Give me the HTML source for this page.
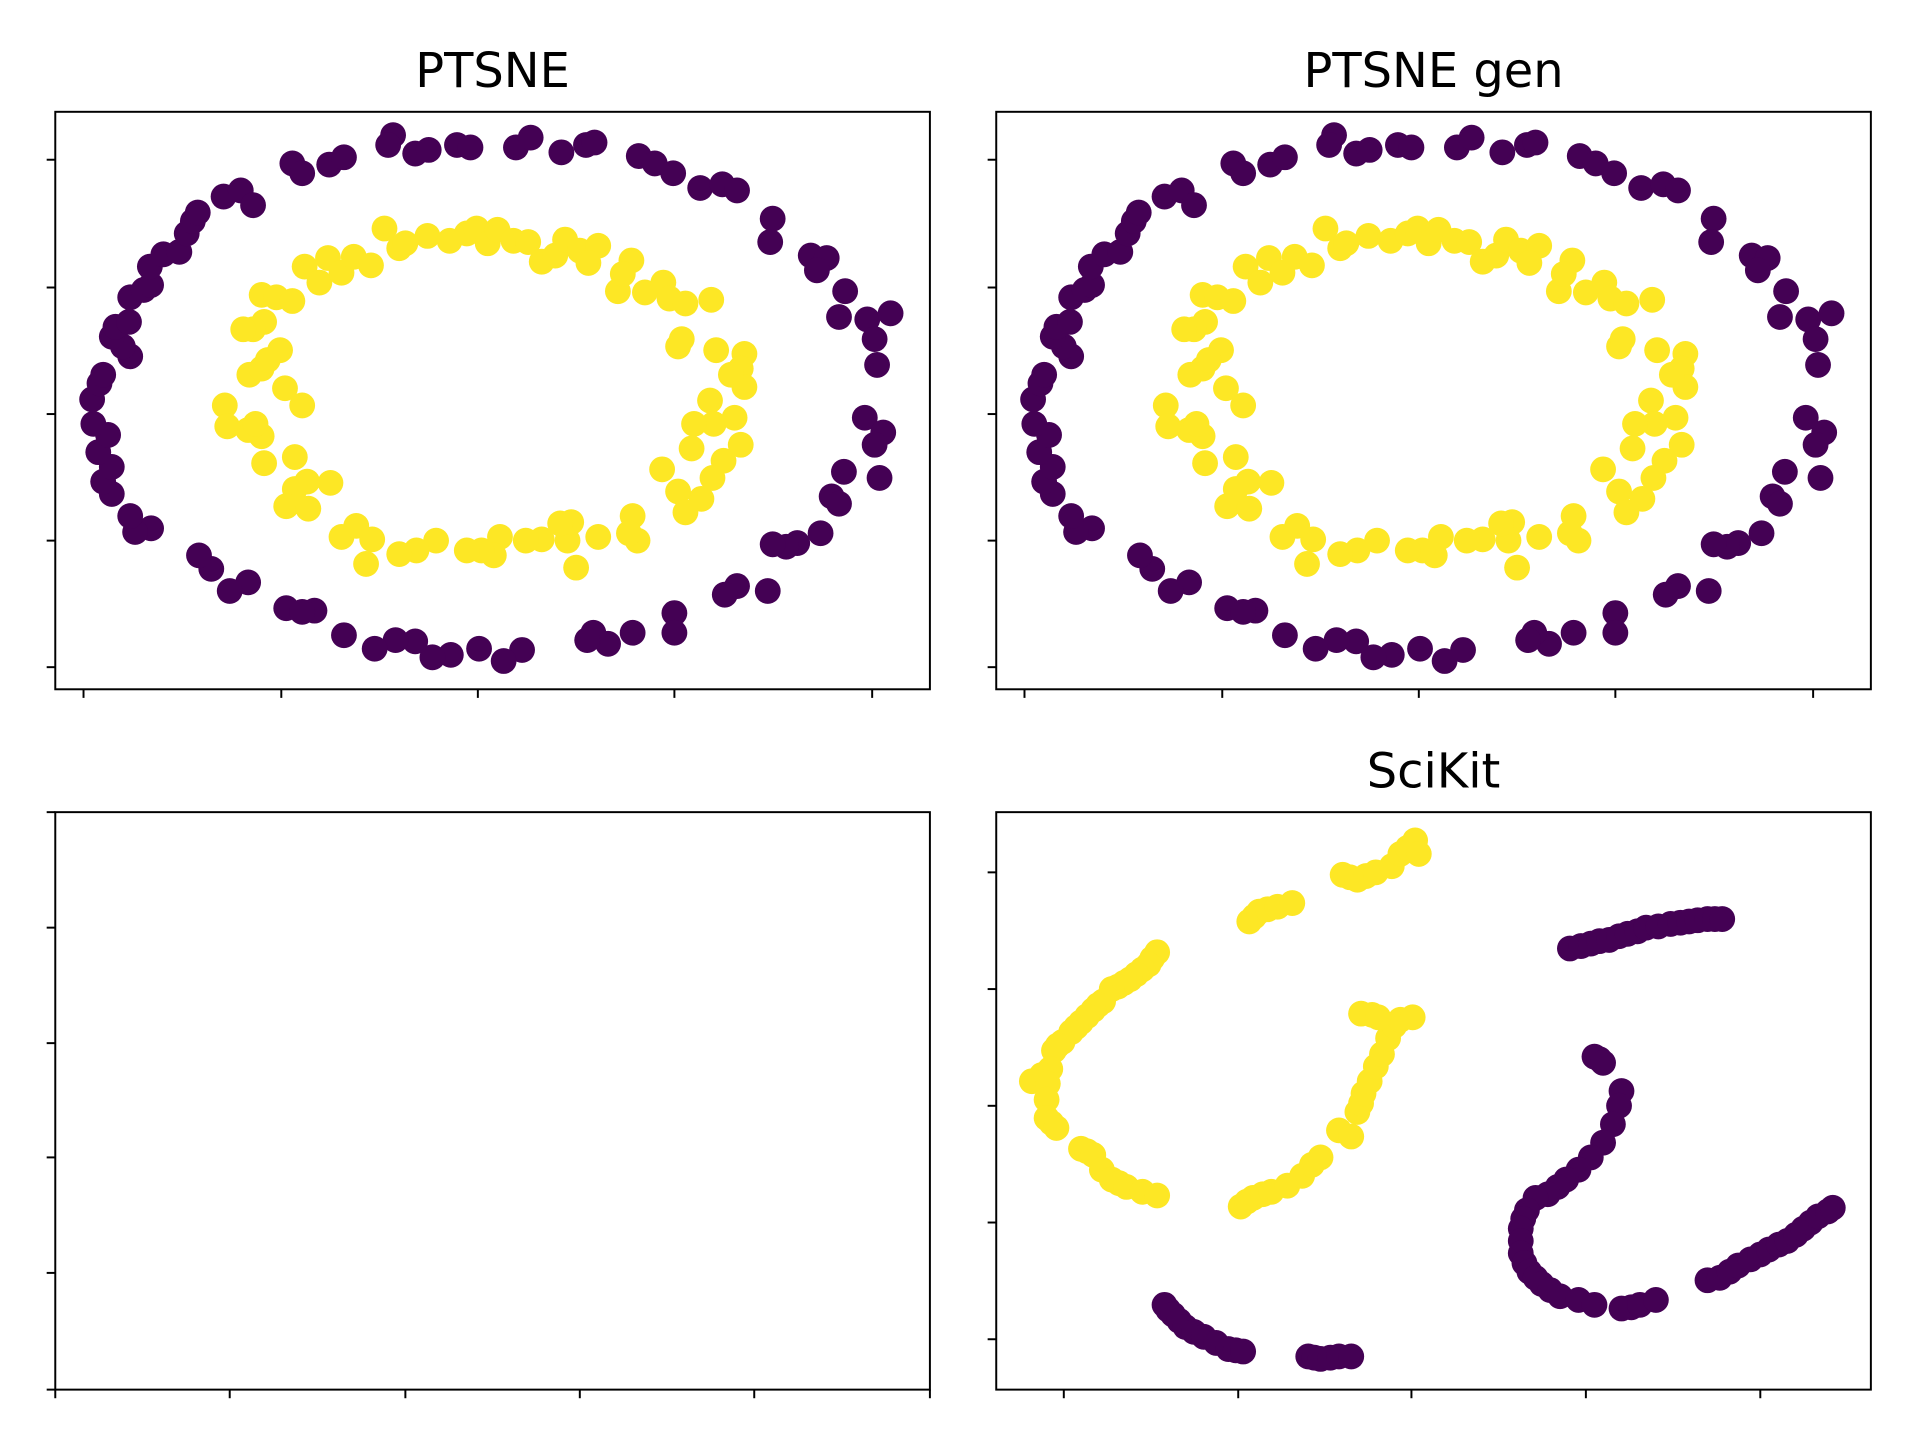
<!DOCTYPE html>
<html><head><meta charset="utf-8"><style>
html,body{margin:0;padding:0;background:#fff;}
svg{display:block;}
text{font-family:"DejaVu Sans","Liberation Sans",sans-serif;}
</style></head><body>
<svg id="fig" width="1920" height="1440" viewBox="0 0 1563 1172" preserveAspectRatio="none" xmlns="http://www.w3.org/2000/svg"></svg>
<script>
// ---- data (embedding coordinates) ----
const ptsneOuterX=[320,316,338,349,372,383,420,432,457,477,484,520,533,548,570,588,600,629,627,660,673,665,688,683,706,725,712,714,704,719,712,716,687,677,683,668,649,640,629,625,600,590,549,549,515,495,483,478,425,410,390,367,352,338,322,305,280,256,233,246,202,187,172,162,123,110,106,91,84,91,80,88,76,75,81,84,106,100,91,94,105,106,117,123,122,133,146,152,157,161,182,196,206,238,246,268,280];
const ptsneOuterY=[110,118,125,122,118,120,120,112,124,118,116,127,133,141,153,150,155,178,197,208,210,220,237,258,260,255,276,297,340,352,362,389,384,404,410,434,442,445,443,481,477,484,499,515,515,524,515,521,529,538,528,533,535,522,521,528,517,497,495,498,474,481,463,452,430,433,420,402,392,380,368,354,345,325,312,305,290,282,274,266,262,242,236,232,217,207,205,190,180,173,160,155,167,133,141,134,128];
const ptsneInnerX=[313,325,330,348,366,380,388,397,405,418,430,441,452,460,472,487,479,503,514,507,525,540,545,558,579,552,555,583,606,603,606,595,578,581,598,565,603,589,563,539,580,571,552,558,515,519,512,487,469,462,465,456,441,428,407,402,392,380,355,339,325,303,298,278,290,269,250,240,233,251,240,232,246,215,213,202,208,183,185,203,213,228,218,215,206,198,213,225,238,248,260,267,278,288,302];
const ptsneInnerY=[186,202,198,192,196,190,186,198,187,196,197,213,208,195,204,200,214,237,212,223,238,230,243,247,244,282,276,285,288,300,315,305,326,345,340,345,362,375,365,382,389,406,400,417,420,440,434,437,462,440,425,426,439,440,437,452,448,448,440,448,451,439,459,437,428,393,392,398,412,414,372,316,330,377,355,350,345,330,347,305,300,285,293,262,268,268,240,242,245,217,230,210,222,209,216];
const sciYellowX=[1017,1021,1025,1032,1040,1052,1093,1099,1105,1112,1120,1133,1140,1146,1152,1155,942,938,935,930,925,920,915,910,905,898,894,890,885,880,876,872,865,861,858,855,848,840,853,852,852,856,860,880,885,890,897,905,911,917,930,942,1010,1015,1020,1028,1035,1048,1060,1068,1075,1090,1100,1105,1108,1110,1115,1120,1125,1130,1135,1140,1150,1108,1117,1122];
const sciYellowY=[750,746,742,740,738,735,712,714,716,713,710,705,695,690,684,695,775,780,785,789,793,797,800,803,805,815,818,822,827,832,836,840,848,851,855,870,875,880,882,895,910,914,918,935,937,940,952,960,963,966,970,973,982,978,975,972,970,965,957,948,942,920,925,905,898,890,880,868,858,845,835,830,828,825,826,828];
const sciPurpleX=[1278,1287,1295,1302,1310,1318,1325,1333,1340,1350,1360,1368,1375,1382,1390,1396,1402,1298,1302,1305,1320,1318,1313,1305,1295,1285,1275,1268,1260,1250,1243,1240,1238,1238,1238,1241,1245,1250,1255,1262,1270,1285,1298,1320,1328,1335,1348,1390,1400,1408,1415,1425,1433,1440,1448,1455,1462,1468,1474,1480,1488,1492,948,951,955,960,965,972,980,990,1000,1006,1012,1065,1070,1075,1083,1090,1100];
const sciPurpleY=[772,770,768,766,765,762,760,758,755,754,752,751,750,749,748,748,748,860,862,865,888,900,915,930,942,952,960,966,972,975,985,992,1000,1010,1020,1028,1035,1040,1045,1050,1055,1058,1062,1065,1064,1062,1058,1042,1040,1035,1030,1025,1021,1017,1013,1010,1005,1000,995,990,986,983,1062,1066,1070,1075,1080,1084,1088,1093,1098,1099,1100,1104,1105,1106,1105,1104,1104];
const topXTicks=[68,229,389,549,710];
const topYTicks=[130,234,337,440,543];
const emptyXTicks=[45,187,330,472,614,757];
const emptyYTicks=[661,755,849,942,1036,1131];
const sciXTicks=[866,1008,1149,1291,1433];
const sciYTicks=[710,805,900,995,1090];
const titles=["PTSNE","PTSNE gen","","SciKit"];

const NS="http://www.w3.org/2000/svg";
const fig=document.getElementById('fig');
function mk(tag,attrs,parent){const e=document.createElementNS(NS,tag);for(const k in attrs)e.setAttribute(k,attrs[k]);(parent||fig).appendChild(e);return e;}
function scale(d0,d1,r0,r1){return v=>r0+(v-d0)*(r1-r0)/(d1-d0);}

const panels=[
 {x0:45,x1:757,y0:91,y1:561,dx:0,xt:topXTicks,yt:topYTicks,title:titles[0],name:'ptsne'},
 {x0:811,x1:1523,y0:91,y1:561,dx:766,xt:topXTicks,yt:topYTicks,title:titles[1],name:'ptsne-gen'},
 {x0:45,x1:757,y0:661,y1:1131,dx:0,xt:emptyXTicks,yt:emptyYTicks,title:titles[2],name:'empty'},
 {x0:811,x1:1523,y0:661,y1:1131,dx:0,xt:sciXTicks,yt:sciYTicks,title:titles[3],name:'scikit'}
];
const PURPLE='#440154',YELLOW='#fde725',R=10.5;

function drawSeries(g,p,xs,ys,color,label){
  const sx=scale(0,1,p.dx,p.dx+1), sy=scale(0,1,0,1);
  for(let i=0;i<xs.length;i++){
    const c=mk('circle',{cx:sx(xs[i]),cy:sy(ys[i]),r:R,fill:color},g);
    
    
  }
}

panels.forEach((p,idx)=>{
  const g=mk('g',{});
  
  
  if(p.title){
    const t=mk('text',{x:(p.x0+p.x1)/2,y:p.y0-20,'text-anchor':'middle','font-size':39,fill:'#000'},g);
    t.textContent=p.title;
    
    
  }
  const sx=scale(0,1,p.dx,p.dx+1);
  p.xt.forEach(v=>{
    const l=mk('line',{x1:sx(v),x2:sx(v),y1:p.y1,y2:p.y1+7,stroke:'#000','stroke-width':1.6},g);
    
    
  });
  p.yt.forEach(v=>{
    const l=mk('line',{x1:p.x0-7,x2:p.x0,y1:v,y2:v,stroke:'#000','stroke-width':1.6},g);
    
    
  });
  if(idx<2){
    drawSeries(g,p,ptsneOuterX,ptsneOuterY,PURPLE,'outer-ring');
    drawSeries(g,p,ptsneInnerX,ptsneInnerY,YELLOW,'inner-ring');
  } else if(idx===3){
    drawSeries(g,p,sciYellowX,sciYellowY,YELLOW,'scikit-yellow');
    drawSeries(g,p,sciPurpleX,sciPurpleY,PURPLE,'scikit-purple');
  }
  const f=mk('rect',{x:p.x0,y:p.y0,width:p.x1-p.x0,height:p.y1-p.y0,fill:'none',stroke:'#000','stroke-width':1.6},g);
  
  
});
</script>
</body></html>
